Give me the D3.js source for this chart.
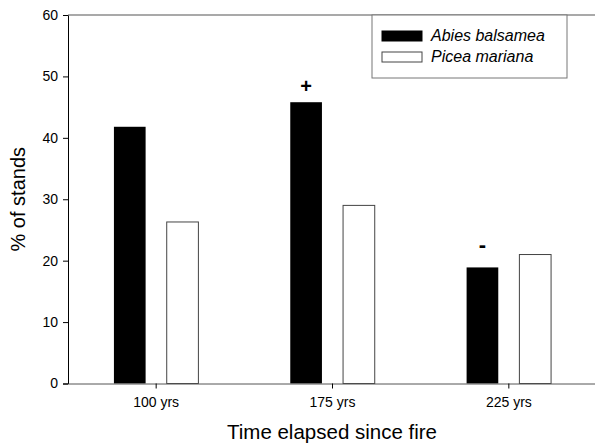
<!DOCTYPE html>
<html>
<head>
<meta charset="utf-8">
<script src="https://cdn.jsdelivr.net/npm/d3@7"></script>
<style>
  html, body { margin: 0; padding: 0; background: #fff; }
  svg { display: block; font-family: "Liberation Sans", Arial, sans-serif; }
</style>
</head>
<body>
<div id="chart"></div>
<script>
// данные
const categories = ["100 yrs", "175 yrs", "225 yrs"];
const seriesNames = ["Abies balsamea", "Picea mariana"];
const abiesValues = [41.8, 45.8, 18.9];
const piceaValues = [26.3, 29.0, 21.0];
const abiesMarks = ["", "+", "-"];
const yTicks = [0, 10, 20, 30, 40, 50, 60];

const COLORS = { abies: "#000", picea: "#fff", ink: "#000", frame: "#555" };

const width = 595, height = 445;
const margin = { top: 15, right: -2, bottom: 61.5, left: 68 };

const svg = d3.select("#chart").append("svg")
    .attr("width", width).attr("height", height);

const x0 = d3.scaleBand().domain(categories)
    .range([margin.left, width - margin.right]).padding(0);
const x1 = d3.scaleBand().domain(seriesNames)
    .range([0, x0.bandwidth()]).paddingInner(0.4).paddingOuter(0.87);
const y = d3.scaleLinear().domain([0, 60])
    .range([height - margin.bottom, margin.top]);

const rows = categories.map((c, i) => ({
    cat: c,
    values: [
        { name: seriesNames[0], v: abiesValues[i], mark: abiesMarks[i] },
        { name: seriesNames[1], v: piceaValues[i], mark: "" }
    ]
}));

// --- бары ---
const groups = svg.append("g").selectAll("g").data(rows).join("g")
    .attr("transform", d => `translate(${x0(d.cat)},0)`);

groups.selectAll("rect").data(d => d.values).join("rect")
    .attr("x", d => x1(d.name))
    .attr("y", d => y(d.v))
    .attr("width", x1.bandwidth())
    .attr("height", d => y(0) - y(d.v))
    .attr("fill", (d, i) => i === 0 ? COLORS.abies : COLORS.picea)
    .attr("stroke", (d, i) => i === 0 ? "none" : "#444")
    .attr("stroke-width", 1);

// значки + / -
groups.selectAll("text.mark").data(d => d.values.filter(v => v.mark)).join("text")
    .attr("class", "mark")
    .attr("x", d => x1(d.name) + x1.bandwidth() / 2)
    .attr("y", d => y(d.v) - (d.mark === "-" ? 15 : 9))
    .attr("text-anchor", "middle")
    .style("font-size", d => d.mark === "-" ? "22px" : "20px")
    .style("font-weight", "bold")
    .text(d => d.mark);

// --- оси ---
const yAxis = svg.append("g").attr("transform", `translate(${margin.left},0)`)
    .call(d3.axisLeft(y).tickValues(yTicks).tickSize(5).tickPadding(5));
yAxis.select(".domain").attr("stroke", COLORS.ink);
yAxis.selectAll("text").style("font-size", "14px").attr("fill", "#000");

const xAxis = svg.append("g").attr("transform", `translate(0,${y(0)})`)
    .call(d3.axisBottom(x0).tickSize(5).tickPadding(9).tickSizeOuter(0));
xAxis.select(".domain").attr("stroke", COLORS.frame);
xAxis.selectAll("text").style("font-size", "14px").attr("fill", "#000");

// верхняя рамка
svg.append("line")
    .attr("x1", margin.left).attr("x2", width)
    .attr("y1", y(60)).attr("y2", y(60))
    .attr("stroke", COLORS.frame).attr("stroke-width", 1.2);

// подписи осей
svg.append("text")
    .attr("transform", `translate(25,${(y(0) + y(60)) / 2}) rotate(-90)`)
    .attr("text-anchor", "middle")
    .style("font-size", "20px")
    .text("% of stands");

svg.append("text")
    .attr("x", 332).attr("y", 439)
    .attr("text-anchor", "middle")
    .style("font-size", "20.5px")
    .text("Time elapsed since fire");

// --- легенда ---
const legend = svg.append("g").attr("transform", "translate(372,15)");
legend.append("rect")
    .attr("width", 195).attr("height", 63)
    .attr("fill", "#fff").attr("stroke", "#777").attr("stroke-width", 1);

const items = legend.selectAll("g.item").data(seriesNames).join("g")
    .attr("class", "item")
    .attr("transform", (d, i) => `translate(10,${16 + i * 21})`);
items.append("rect")
    .attr("width", 40).attr("height", 10)
    .attr("fill", (d, i) => i === 0 ? COLORS.abies : COLORS.picea)
    .attr("stroke", (d, i) => i === 0 ? COLORS.abies : "#444");
items.append("text")
    .attr("x", 49).attr("y", 10)
    .style("font-size", "16px").style("font-style", "italic")
    .text(d => d);
</script>
</body>
</html>
